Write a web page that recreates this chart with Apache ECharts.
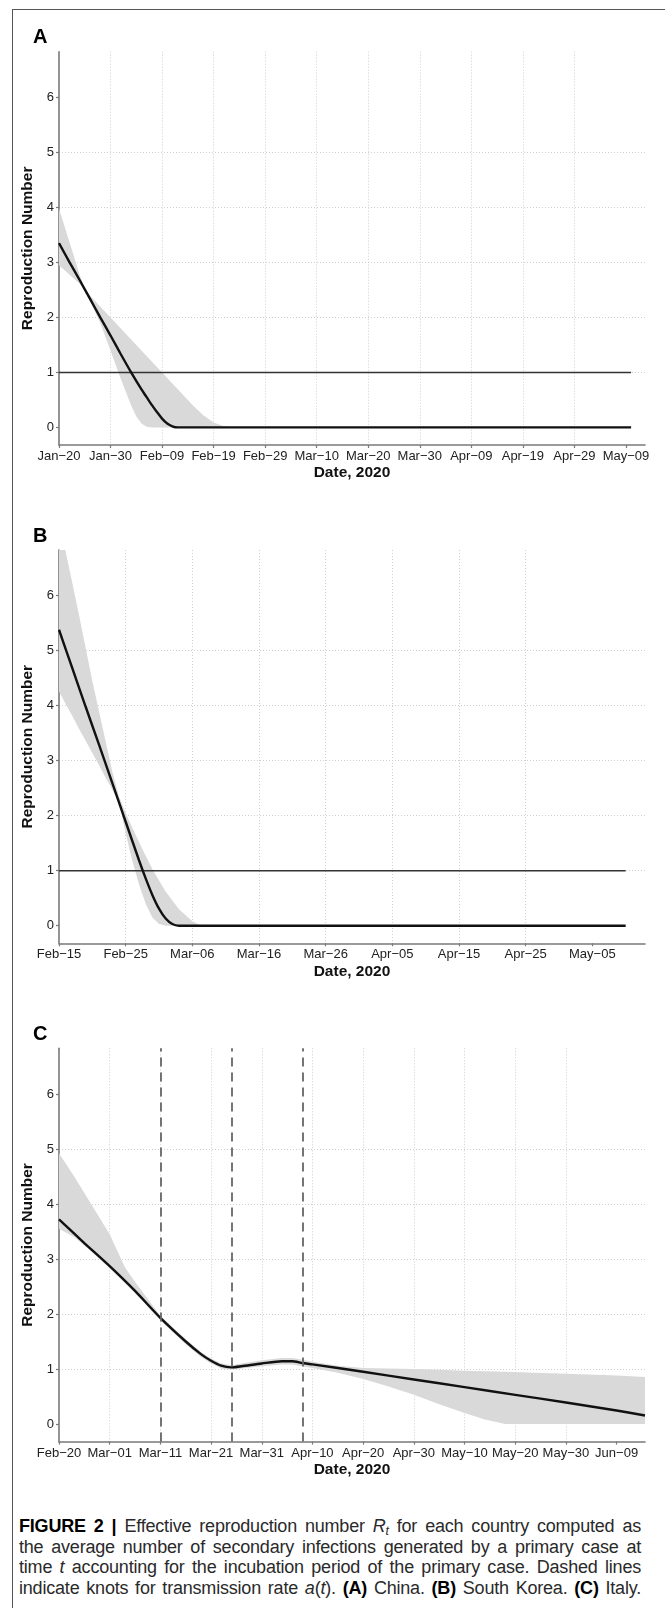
<!DOCTYPE html>
<html>
<head>
<meta charset="utf-8">
<title>Figure 2</title>
<script src="https://cdn.jsdelivr.net/npm/echarts@6.0.0/dist/echarts.min.js"></script>
<style>
  html, body { margin: 0; padding: 0; background: #fff; }
  #wrap { position: relative; width: 665px; height: 1608px; overflow: hidden; }
  #frame { position: absolute; left: 12px; top: 9px; width: 720px; height: 1700px;
           border-left: 1.5px solid #555; border-top: 1.5px solid #555; }
  #chart { position: absolute; left: 0; top: 0; width: 665px; height: 1500px; }
  #caption { position: absolute; left: 19px; top: 1516px; width: 622px;
             font-family: 'Liberation Sans', Arial, sans-serif; font-size: 18px;
             letter-spacing: -0.2px; line-height: 20.5px; color: #2a2a2a; }
  #caption div { text-align: justify; text-align-last: justify; white-space: nowrap; }
  #caption b { color: #000; }
  #caption sub { font-size: 0.68em; vertical-align: -0.25em; line-height: 0; }
</style>
</head>
<body>
<div id="wrap">
  <div id="frame"></div>
  <div id="chart"></div>
  <div id="caption">
    <div><b>FIGURE 2 |</b> Effective reproduction number <i>R<sub>t</sub></i> for each country computed as</div>
    <div>the average number of secondary infections generated by a primary case at</div>
    <div>time <i>t</i> accounting for the incubation period of the primary case. Dashed lines</div>
    <div>indicate knots for transmission rate <i>a</i>(<i>t</i>). <b>(A)</b> China. <b>(B)</b> South Korea. <b>(C)</b> Italy.</div>
  </div>
</div>
<script>
// tick labels (one every 10 days from the first date of each panel)
var ticksA = ['Jan−20', 'Jan−30', 'Feb−09', 'Feb−19', 'Feb−29', 'Mar−10', 'Mar−20', 'Mar−30', 'Apr−09', 'Apr−19', 'Apr−29', 'May−09'];
var ticksB = ['Feb−15', 'Feb−25', 'Mar−06', 'Mar−16', 'Mar−26', 'Apr−05', 'Apr−15', 'Apr−25', 'May−05'];
var ticksC = ['Feb−20', 'Mar−01', 'Mar−11', 'Mar−21', 'Mar−31', 'Apr−10', 'Apr−20', 'Apr−30', 'May−10', 'May−20', 'May−30', 'Jun−09'];
var yTicks = [0, 1, 2, 3, 4, 5, 6];

// A: China (days since Jan-20)
var daysA = [0, 2, 4, 6, 8, 10, 12, 14, 16, 17, 18, 19, 20, 21, 22, 23, 24, 111];
var rtA = [3.35, 3.01, 2.68, 2.34, 2.00, 1.67, 1.33, 1.00, 0.69, 0.55, 0.41, 0.28, 0.16, 0.07, 0.02, 0, 0, 0];
var bandDaysA = [0, 2, 4, 5, 6, 8, 10, 12, 14, 15, 16, 17, 18, 20, 22, 24, 26, 28, 30, 32, 34, 111];
var upperA = [3.98, 3.38, 2.78, 2.52, 2.40, 2.20, 2.00, 1.80, 1.60, 1.50, 1.40, 1.30, 1.20, 1.00, 0.80, 0.60, 0.40, 0.22, 0.09, 0.02, 0, 0];
var lowerA = [2.95, 2.78, 2.61, 2.50, 2.30, 1.90, 1.40, 0.88, 0.40, 0.20, 0.07, 0.01, 0, 0, 0, 0, 0, 0, 0, 0, 0, 0];
var oneLineA = [0, 111];

// B: South Korea (days since Feb-15)
var daysB = [0, 2, 4, 6, 8, 10, 12, 13, 14, 15, 16, 17, 18, 85];
var rtB = [5.38, 4.68, 3.98, 3.29, 2.59, 1.89, 1.19, 0.86, 0.56, 0.31, 0.13, 0.03, 0, 0];
var bandDaysB = [0, 1, 2, 3, 4, 5, 6, 7, 8, 9, 10, 11, 12, 13, 14, 15, 16, 18, 20, 21, 22, 85];
var upperB = [7.40, 6.80, 6.23, 5.65, 5.05, 4.45, 3.90, 3.35, 2.80, 2.35, 2.05, 1.78, 1.52, 1.27, 1.03, 0.82, 0.62, 0.30, 0.08, 0.02, 0, 0];
var lowerB = [4.26, 4.03, 3.81, 3.58, 3.36, 3.14, 2.92, 2.69, 2.47, 2.24, 1.68, 1.18, 0.75, 0.40, 0.15, 0.03, 0, 0, 0, 0, 0, 0];
var oneLineB = [0, 85];

// C: Italy (days since Feb-20)
var daysC = [0, 5, 10, 15, 20, 25, 28, 30, 32, 34, 36, 40, 44, 46, 48, 50, 60, 70, 80, 90, 100, 110, 115.6];
var rtC = [3.72, 3.29, 2.87, 2.42, 1.93, 1.50, 1.27, 1.15, 1.06, 1.03, 1.05, 1.10, 1.14, 1.14, 1.11, 1.085, 0.95, 0.81, 0.67, 0.53, 0.39, 0.245, 0.155];
var bandDaysC = [0, 3, 6, 10, 12, 13, 15, 20, 25, 28, 30, 32, 34, 36, 40, 44, 46, 48, 50, 55, 60, 65, 70, 75, 80, 84, 88, 100, 110, 115.6];
var upperC = [4.92, 4.50, 4.05, 3.45, 3.05, 2.85, 2.58, 1.97, 1.54, 1.31, 1.19, 1.10, 1.07, 1.10, 1.16, 1.20, 1.20, 1.17, 1.13, 1.06, 1.02, 1.01, 1.00, 0.985, 0.97, 0.96, 0.95, 0.915, 0.88, 0.855];
var lowerC = [3.55, 3.40, 3.17, 2.83, 2.65, 2.56, 2.38, 1.88, 1.45, 1.22, 1.10, 1.01, 0.99, 1.01, 1.05, 1.08, 1.08, 1.05, 1.02, 0.93, 0.82, 0.68, 0.53, 0.36, 0.20, 0.08, 0, 0, 0, 0];
var knotsC = [20, 34, 48]; // Mar-11, Mar-25, Apr-08

var FONT = "'Liberation Sans', Arial, sans-serif";
var AXIS_GREY = '#7a7a7a';

var chart = echarts.init(document.getElementById('chart'), null, { renderer: 'canvas' });

function zip(xs, ys) {
  return xs.map(function (x, i) { return [x, ys[i]]; });
}

function xAxisFor(i, maxDay, labels) {
  var vals = labels.map(function (_, k) { return k * 10; });
  return {
    type: 'value', gridIndex: i, min: 0, max: maxDay, interval: 10,
    name: 'Date, 2020', nameLocation: 'middle', nameGap: 20,
    nameTextStyle: { fontFamily: FONT, fontSize: 15.5, fontWeight: 'bold', color: '#111' },
    axisLine: { show: true, onZero: false, lineStyle: { color: AXIS_GREY, width: 1.6 } },
    axisTick: { show: true, length: 3, customValues: vals, lineStyle: { color: AXIS_GREY, width: 1.2 } },
    axisLabel: {
      customValues: vals, margin: 5, fontSize: 13, color: '#222', fontFamily: FONT,
      formatter: function (v) { var k = Math.round(v / 10); return Math.abs(v - k * 10) < 1e-6 ? (labels[k] || '') : ''; }
    },
    splitLine: { show: true, customValues: vals, showMinLine: false, showMaxLine: false,
                 lineStyle: { color: '#cfcfcf', type: [1, 2], width: 1 } }
  };
}

function yAxisFor(i) {
  return {
    type: 'value', gridIndex: i, min: -0.32, max: 6.83, minInterval: 1, maxInterval: 1,
    name: 'Reproduction Number', nameLocation: 'middle', nameGap: 14,
    nameTextStyle: { fontFamily: FONT, fontSize: 15.5, fontWeight: 'bold', color: '#111' },
    axisLine: { show: true, onZero: false, lineStyle: { color: AXIS_GREY, width: 1.6 } },
    axisTick: { show: true, length: 3, customValues: yTicks, lineStyle: { color: AXIS_GREY, width: 1.2 } },
    axisLabel: {
      customValues: yTicks, margin: 5, fontSize: 13, color: '#222', fontFamily: FONT,
      formatter: function (v) { return Math.abs(v - Math.round(v)) < 1e-6 ? String(Math.round(v)) : ''; }
    },
    splitLine: { show: true, customValues: yTicks, showMinLine: false, showMaxLine: false,
                 lineStyle: { color: '#cfcfcf', type: [1, 2], width: 1 } }
  };
}

function bandSeries(i, xs, lo, hi) {
  return {
    type: 'custom', xAxisIndex: i, yAxisIndex: i, clip: true, silent: true, z: 1,
    data: [[0, 0]],
    renderItem: function (params, api) {
      var pts = [];
      for (var k = 0; k < xs.length; k++) pts.push(api.coord([xs[k], hi[k]]));
      for (var j = xs.length - 1; j >= 0; j--) pts.push(api.coord([xs[j], lo[j]]));
      return { type: 'polygon', shape: { points: pts }, style: { fill: '#d9d9d9' } };
    }
  };
}

function oneSeries(i, span) {
  return {
    type: 'line', xAxisIndex: i, yAxisIndex: i, silent: true, z: 2,
    symbol: 'none', data: span.map(function (d) { return [d, 1]; }),
    lineStyle: { color: '#333', width: 1.5 }
  };
}

function rtSeries(i, xs, ys) {
  return {
    type: 'line', xAxisIndex: i, yAxisIndex: i, silent: true, z: 3,
    symbol: 'none', smooth: 0.25, data: zip(xs, ys),
    lineStyle: { color: '#111', width: 2.4 }
  };
}

var tops = [51.7, 550, 1048.3];
var letters = ['A', 'B', 'C'];

var knotLine = rtSeries(2, daysC, rtC);
knotLine.markLine = {
  silent: true, symbol: 'none', z: 4, animation: false,
  label: { show: false },
  lineStyle: { color: '#666', width: 1.8, type: [9, 6] },
  data: knotsC.map(function (d) { return { xAxis: d }; })
};

var option = {
  animation: false,
  textStyle: { fontFamily: FONT },
  grid: tops.map(function (t) { return { left: 59, top: t, width: 586, height: 393.3 }; }),
  xAxis: [xAxisFor(0, 113.7, ticksA), xAxisFor(1, 87.9, ticksB), xAxisFor(2, 115.6, ticksC)],
  yAxis: [yAxisFor(0), yAxisFor(1), yAxisFor(2)],
  graphic: tops.map(function (t, i) {
    return {
      type: 'text', left: 33, top: t - 24,
      style: { text: letters[i], fontFamily: FONT, fontSize: 20, fontWeight: 'bold', fill: '#000' }
    };
  }),
  series: [
    bandSeries(0, bandDaysA, lowerA, upperA),
    oneSeries(0, oneLineA),
    rtSeries(0, daysA, rtA),
    bandSeries(1, bandDaysB, lowerB, upperB),
    oneSeries(1, oneLineB),
    rtSeries(1, daysB, rtB),
    bandSeries(2, bandDaysC, lowerC, upperC),
    knotLine
  ]
};

chart.setOption(option);
</script>
</body>
</html>
